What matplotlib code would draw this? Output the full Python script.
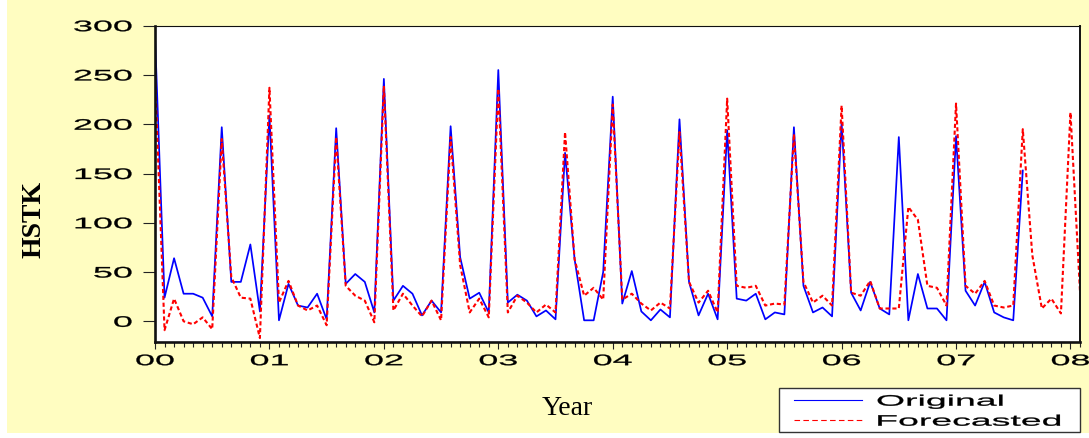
import numpy as np
import matplotlib
matplotlib.use("Agg")
import matplotlib.pyplot as plt
from matplotlib.patheffects import AbstractPathEffect
from matplotlib.transforms import Affine2D
from matplotlib.patches import Rectangle
from matplotlib.lines import Line2D

# ---------------- data (monthly, Jan 2000 = index 0) ----------------
original = [290, 24, 64, 28, 28, 24, 5, 197, 40, 40, 78, 10,
            209, 1, 38, 16, 14, 28, 2, 196, 38, 48, 40, 9,
            246, 21, 36, 28, 6, 21, 9, 198, 65, 23, 29, 9,
            255, 19, 27, 21, 5, 11, 2, 171, 63, 1, 1, 50,
            228, 18, 51, 10, 1, 12, 4, 205, 40, 6, 28, 2,
            194, 23, 21, 28, 2, 9, 7, 197, 36, 9, 14, 5,
            202, 29, 11, 40, 13, 7, 187, 1, 48, 13, 13, 1,
            188, 31, 16, 40, 9, 4, 1, 153]
forecasted = [249, -9, 23, 0, -3, 4, -8, 185, 45, 24, 23, -17,
              237, 19, 41, 16, 11, 16, -4, 187, 36, 26, 21, -1,
              239, 11, 28, 16, 5, 21, 1, 187, 57, 9, 23, 4,
              236, 9, 26, 19, 9, 17, 9, 192, 63, 26, 34, 22,
              220, 22, 28, 18, 11, 19, 13, 192, 40, 19, 31, 9,
              226, 36, 34, 36, 16, 18, 17, 190, 40, 19, 26, 16,
              219, 29, 26, 41, 13, 13, 13, 116, 103, 36, 34, 16,
              221, 36, 28, 41, 16, 14, 16, 195, 67, 13, 23, 8,
              212, 30]
year_labels = ["00", "01", "02", "03", "04", "05", "06", "07", "08"]
y_ticks = [0, 50, 100, 150, 200, 250, 300]
series_names = ["Original", "Forecasted"]

BG = "#FFFDC1"
W, H = 1089, 439


class HStretch(AbstractPathEffect):
    """Stretch rendered text horizontally about an anchor (with slight stroke)."""
    def __init__(self, sx, anchor="center", stroke=0.2):
        super().__init__()
        self.sx = sx
        self.anchor = anchor
        self.stroke = stroke

    def draw_path(self, renderer, gc, tpath, affine, rgbFace=None):
        ext = tpath.get_extents(affine)
        if self.anchor == "left":
            cx = ext.x0
        elif self.anchor == "right":
            cx = ext.x1
        else:
            cx = 0.5 * (ext.x0 + ext.x1)
        t = affine + Affine2D().translate(-cx, 0).scale(self.sx, 1).translate(cx, 0)
        gc0 = renderer.new_gc()
        gc0.copy_properties(gc)
        if self.stroke and rgbFace is not None:
            gc0.set_linewidth(self.stroke)
            gc0.set_foreground(rgbFace)
        renderer.draw_path(gc0, tpath, t, rgbFace)
        gc0.restore()


plt.rcParams["font.family"] = ["Liberation Sans", "DejaVu Sans"]

fig = plt.figure(figsize=(W / 100, H / 100), dpi=100)
fig.patch.set_facecolor("white")
fig.add_artist(Rectangle((7 / W, 5 / H), 1 - 7 / W, 1 - 5 / H,
                         transform=fig.transFigure, facecolor=BG,
                         edgecolor="none", zorder=-10))

ax = fig.add_axes([155 / W, 1 - 342.7 / H, (1080 - 155) / W, (342.7 - 26.7) / H])
ax.set_facecolor("white")

x_o = np.arange(len(original))
x_f = np.arange(len(forecasted))
ax.plot(x_o, original, color="#0000FF", lw=1.25, label=series_names[0])
ax.plot(x_f, forecasted, color="#FF0000", lw=1.5, ls=(0, (2, 1.3)),
        label=series_names[1])

ax.set_xlim(0, 97)
ax.set_ylim(-20.7, 300)

ax.set_yticks(y_ticks)
ax.set_yticklabels([str(v) for v in y_ticks])
ax.set_xticks(np.arange(0, 97, 12))
ax.set_xticklabels(year_labels)
ax.set_xticks(np.arange(0, 98, 1), minor=True)

ax.tick_params(axis="y", direction="out", length=8.5, width=0.8, pad=8,
               labelsize=11, color="#222222")
ax.tick_params(axis="x", which="major", direction="out", length=5, width=0.8,
               pad=4, labelsize=11, color="#222222")
ax.tick_params(axis="x", which="minor", direction="out", length=3.5,
               width=0.8, color="#222222")

for t in ax.get_yticklabels():
    t.set_path_effects([HStretch(2.35, "right")])
for t in ax.get_xticklabels():
    t.set_path_effects([HStretch(2.35, "center")])

ax.spines["left"].set_linewidth(1.9)
ax.spines["bottom"].set_linewidth(1.9)
ax.spines["right"].set_linewidth(1.4)
ax.spines["top"].set_linewidth(0.8)
for s in ax.spines.values():
    s.set_color("#111111")

# axis titles
fig.text(34 / W, 1 - 219 / H, "HSTK", rotation=90, ha="center", va="center",
         fontfamily="Liberation Serif", fontweight="bold", fontsize=20)
fig.text(567 / W, 1 - 415 / H, "Year", ha="center", va="baseline",
         fontfamily="Liberation Serif", fontsize=20)

# legend box (drawn manually to reproduce the stretched look)
fig.add_artist(Rectangle((779 / W, 1 - 433.3 / H), 301 / W, 44.8 / H,
                         transform=fig.transFigure, facecolor="white",
                         edgecolor="#333333", lw=1.0, zorder=5))
fig.add_artist(Line2D([794 / W, 862 / W], [1 - 400.7 / H] * 2,
                      transform=fig.transFigure, color="#0000FF", lw=0.8,
                      zorder=6))
fig.add_artist(Line2D([794 / W, 862 / W], [1 - 420.7 / H] * 2,
                      transform=fig.transFigure, color="#FF0000", lw=0.8,
                      ls=(0, (5, 3)), zorder=6))
fig.text(877 / W, 1 - 406.7 / H, series_names[0], ha="left", va="baseline",
         fontsize=11, zorder=7, path_effects=[HStretch(2.45, "left")])
fig.text(877 / W, 1 - 426.7 / H, series_names[1], ha="left", va="baseline",
         fontsize=11, zorder=7, path_effects=[HStretch(2.45, "left")])

fig.savefig("out.png", dpi=100, facecolor=fig.get_facecolor())
